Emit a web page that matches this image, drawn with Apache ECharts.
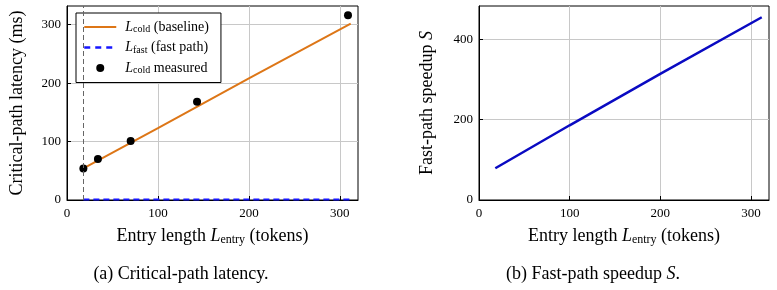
<!DOCTYPE html>
<html>
<head>
<meta charset="utf-8">
<script src="https://cdn.jsdelivr.net/npm/echarts@6/dist/echarts.min.js"></script>
<style>
  html, body { margin: 0; padding: 0; background: #fff; }
  #chart { width: 777px; height: 290px; }
</style>
</head>
<body>
<div id="chart"></div>
<script>
// entry lengths (tokens)
const measuredLen = [18, 34, 70, 143, 309];
const measuredCold = [54, 70, 101, 168, 316];

const modelLen = [18, 100, 200, 312];
const coldModel = [54, 123, 208, 302];
const fastModel = [1, 1, 1, 1];
const speedup = [79, 186, 314, 455];

const minEntry = 18;

const serif = '"Liberation Serif", "Times New Roman", serif';
const orange = '#dd7617';

const chart = echarts.init(document.getElementById('chart'));

const pairs = (xs, ys) => xs.map((x, i) => [x, ys[i]]);

const subRich = {
  i: { fontFamily: serif, fontStyle: 'italic', fontSize: 18, color: '#000' },
  s: { fontFamily: serif, fontSize: 12, color: '#000', padding: [7, 0, 0, 0] },
  t: { fontFamily: serif, fontSize: 18, color: '#000' }
};
const legRich = {
  i: { fontFamily: serif, fontStyle: 'italic', fontSize: 14, color: '#000', padding: [0, 0, 0, 4] },
  s: { fontFamily: serif, fontSize: 10, color: '#000', padding: [5, 0, 0, 0] },
  t: { fontFamily: serif, fontSize: 14, color: '#000' }
};

const xAxisBase = (idx) => ({
  gridIndex: idx,
  type: 'value',
  min: 0,
  max: 320,
  interval: 100,
  name: '{t|Entry length }{i|L}{s|entry}{t| (tokens)}',
  nameLocation: 'middle',
  nameGap: 27,
  nameTextStyle: { rich: subRich },
  axisLine: { lineStyle: { color: '#000', width: 1 } },
  axisTick: { inside: true, length: 4, lineStyle: { color: '#000' } },
  axisLabel: { fontFamily: serif, fontSize: 13, color: '#000', margin: 7, showMaxLabel: false },
  splitLine: { show: true, showMaxLine: false, lineStyle: { color: '#c8c8c8', width: 1 } }
});

const yAxisBase = (idx, max, interval, name, gap) => ({
  gridIndex: idx,
  type: 'value',
  min: 0,
  max: max,
  interval: interval,
  name: name,
  nameLocation: 'middle',
  nameGap: gap,
  nameTextStyle: { rich: subRich },
  axisLine: { show: true, lineStyle: { color: '#000', width: 1 } },
  axisTick: { show: true, inside: true, length: 4, lineStyle: { color: '#000' } },
  axisLabel: { fontFamily: serif, fontSize: 13, color: '#000', margin: 6, showMaxLabel: false },
  splitLine: { show: true, showMaxLine: false, lineStyle: { color: '#c8c8c8', width: 1 } }
});

const option = {
  animation: false,
  grid: [
    { left: 67, top: 6, width: 291, height: 194, show: true, borderColor: '#000', borderWidth: 1, backgroundColor: 'transparent' },
    { left: 479, top: 6, width: 290, height: 194, show: true, borderColor: '#000', borderWidth: 1, backgroundColor: 'transparent' }
  ],
  xAxis: [xAxisBase(0), xAxisBase(1)],
  yAxis: [
    yAxisBase(0, 332, 100, '{t|Critical-path latency (ms)}', 41),
    yAxisBase(1, 483, 200, '{t|Fast-path speedup }{i|S}', 43)
  ],
  legend: {
    left: 76,
    top: 13,
    orient: 'vertical',
    backgroundColor: '#fff',
    borderColor: '#000',
    borderWidth: 1,
    padding: [7, 12, 7, 7],
    itemGap: 6,
    itemWidth: 32,
    itemHeight: 8,
    data: [
      { name: 'cold', itemStyle: { opacity: 0 }, lineStyle: { width: 2 } },
      { name: 'fast', itemStyle: { opacity: 0 }, lineStyle: { width: 2.5, type: [6, 5] } },
      { name: 'measured', icon: 'circle' }
    ],
    formatter: function (name) {
      if (name === 'cold') return '{i|L}{s|cold}{t| (baseline)}';
      if (name === 'fast') return '{i|L}{s|fast}{t| (fast path)}';
      return '{i|L}{s|cold}{t| measured}';
    },
    textStyle: { rich: legRich }
  },
  series: [
    {
      name: 'cold',
      type: 'line',
      xAxisIndex: 0, yAxisIndex: 0,
      data: pairs(modelLen, coldModel),
      symbol: 'none',
      lineStyle: { color: orange, width: 2 },
      itemStyle: { color: orange },
      z: 3,
      markLine: {
        silent: true,
        symbol: 'none',
        label: { show: false },
        lineStyle: { color: '#666', type: [5, 3], width: 1 },
        data: [{ xAxis: minEntry }]
      }
    },
    {
      name: 'fast',
      type: 'line',
      xAxisIndex: 0, yAxisIndex: 0,
      data: pairs(modelLen, fastModel),
      symbol: 'none',
      lineStyle: { color: '#1616ff', width: 2, type: [6, 4] },
      itemStyle: { color: '#1616ff' },
      z: 3
    },
    {
      name: 'measured',
      type: 'scatter',
      xAxisIndex: 0, yAxisIndex: 0,
      data: pairs(measuredLen, measuredCold),
      symbol: 'circle',
      symbolSize: 8,
      itemStyle: { color: '#000', opacity: 1 },
      z: 4
    },
    {
      name: 'speedup',
      type: 'line',
      xAxisIndex: 1, yAxisIndex: 1,
      data: pairs(modelLen, speedup),
      symbol: 'none',
      lineStyle: { color: '#0a0ac2', width: 2.5 },
      z: 3
    }
  ],
  graphic: [
    {
      type: 'text', x: 181, y: 274,
      style: {
        text: '(a) Critical-path latency.',
        font: '18px ' + serif, fill: '#000',
        align: 'center', verticalAlign: 'middle'
      }
    },
    {
      type: 'text', x: 593, y: 274,
      style: {
        text: '{t|(b) Fast-path speedup }{i|S}{t|.}',
        align: 'center', verticalAlign: 'middle',
        rich: {
          t: { fontFamily: serif, fontSize: 18, fill: '#000' },
          i: { fontFamily: serif, fontSize: 18, fontStyle: 'italic', fill: '#000' }
        }
      }
    }
  ]
};

chart.setOption(option);
</script>
</body>
</html>
